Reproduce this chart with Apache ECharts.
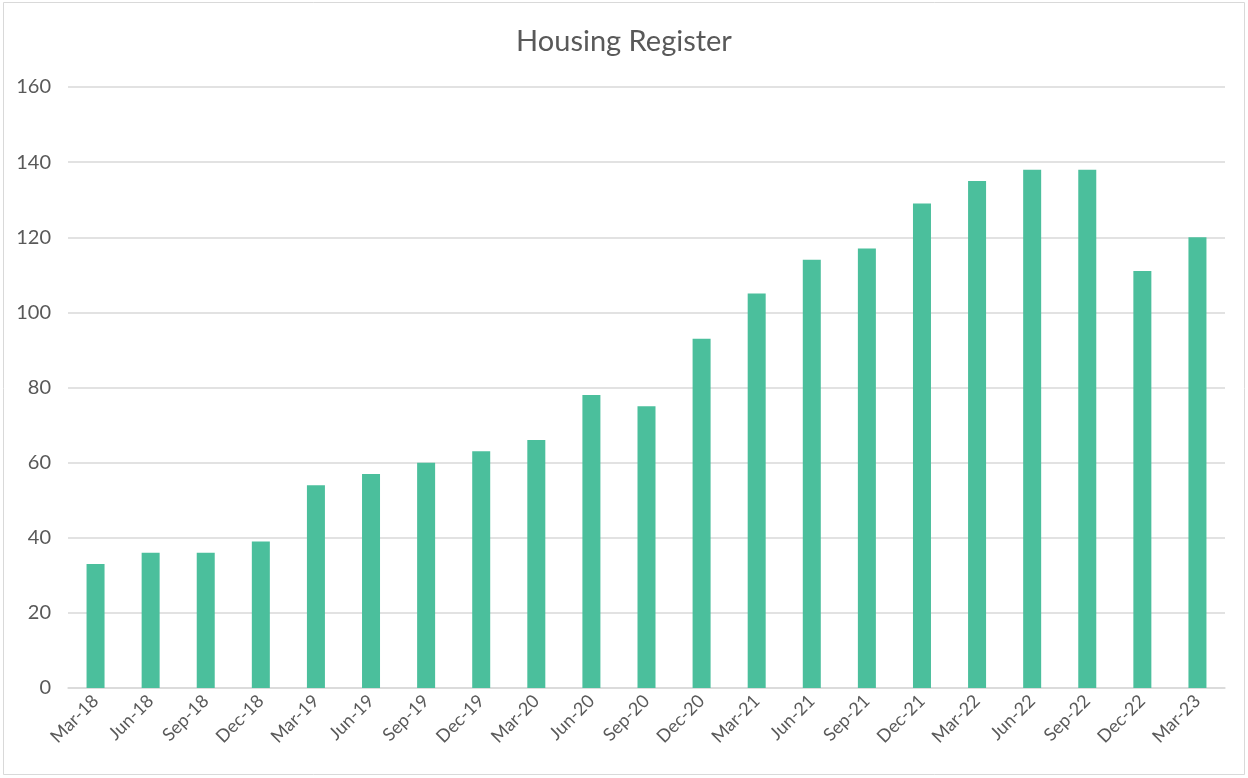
<!DOCTYPE html>
<html>
<head>
<meta charset="utf-8">
<script src="https://cdn.jsdelivr.net/npm/echarts@6/dist/echarts.min.js"></script>
<style>
html,body{margin:0;padding:0;background:#fff;}
#chart{width:1248px;height:778px;}
</style>
</head>
<body>
<div id="chart"></div>
<script>
const categories = ["Mar-18","Jun-18","Sep-18","Dec-18","Mar-19","Jun-19","Sep-19","Dec-19","Mar-20","Jun-20","Sep-20","Dec-20","Mar-21","Jun-21","Sep-21","Dec-21","Mar-22","Jun-22","Sep-22","Dec-22","Mar-23"];
const values = [33,36,36,39,54,57,60,63,66,78,75,93,105,114,117,129,135,138,138,111,120];
const yTicks = {min:0, max:160, interval:20};

const chart = echarts.init(document.getElementById('chart'));
const font = 'Lato, "Open Sans", sans-serif';
chart.setOption({
  backgroundColor:'#fff',
  animation:false,
  title:{
    text:'Housing Register', left:'center', top:22,
    textStyle:{fontFamily:font, fontSize:29, fontWeight:'normal', color:'#595959'}
  },
  graphic:[{type:'rect', shape:{x:3.5,y:2.5,width:1241,height:772}, style:{fill:'none', stroke:'#d9d9d9', lineWidth:1}, silent:true}],
  grid:{left:68, right:23, top:87, bottom:90},
  xAxis:{
    type:'category', data:categories,
    axisLine:{lineStyle:{color:'#d9d9d9', width:1.5}},
    axisTick:{show:false},
    axisLabel:{rotate:45, interval:0, color:'#595959', fontFamily:font, fontSize:18, margin:10}
  },
  yAxis:{
    type:'value', min:yTicks.min, max:yTicks.max, interval:yTicks.interval,
    axisLine:{show:false}, axisTick:{show:false},
    splitLine:{lineStyle:{color:'#d9d9d9', width:1.5}},
    axisLabel:{color:'#595959', fontFamily:font, fontSize:20, margin:17}
  },
  series:[{
    type:'bar', data:values, barWidth:18,
    itemStyle:{color:'#4BBF9C'}
  }]
});
</script>
</body>
</html>
